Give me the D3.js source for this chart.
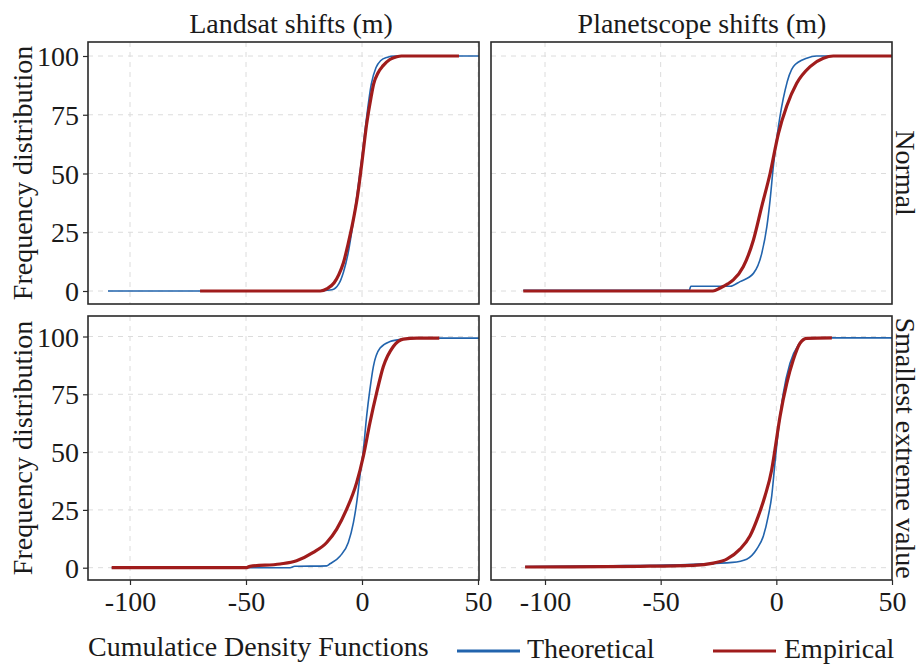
<!DOCTYPE html>
<html>
<head>
<meta charset="utf-8">
<script src="https://cdn.jsdelivr.net/npm/d3@7"></script>
<style>
  html, body { margin: 0; padding: 0; background: #fff; }
  svg { display: block; }
  text { font-family: "Liberation Serif", "Times New Roman", serif; fill: #1a1a1a; }
</style>
</head>
<body>
<svg id="chart" width="921" height="667"></svg>
<script>
// Facet labels, ticks and legend
const columnLabels = ["Landsat shifts (m)", "Planetscope shifts (m)"];
const rowLabels = ["Normal", "Smallest extreme value"];
const seriesNames = ["Theoretical", "Empirical"];
const xTicks = [-100, -50, 0, 50];
const yTicks = [0, 25, 50, 75, 100];
const xAxisTitle = "Cumulatice Density Functions";
const yAxisTitle = "Frequency distribution";

// Cumulative curves, [shift (m), cumulative %]
const landsatNormalTheoretical = [[-109.5,0],[-20,0],[-13,0.5],[-10,3],[-8,8],[-6,16],[-4,28],[-2,42],[0,57],[2,74],[4,88],[6,95],[8,98],[11,99.5],[14,100],[52,100]];
const landsatNormalEmpirical = [[-69.8,0],[-18,0],[-15,1],[-12,3.5],[-10,7],[-8,12],[-6,20],[-4,29],[-2,40],[0,55],[2,71],[4,83],[5,88],[7,93],[9,95.8],[12,98.5],[15,99.7],[17,100],[41.8,100]];
const planetNormalTheoretical = [[-109.4,0.3],[-37.6,0.3],[-37,2],[-20,2],[-15.7,4],[-9.9,7.5],[-6.3,16],[-4.1,27.4],[-2.7,38.7],[-1.3,53],[0.9,70],[3.8,85.5],[7.4,95.5],[13.1,99],[17.4,100],[51,100]];
const planetNormalEmpirical = [[-109.4,0],[-27.4,0],[-24.3,1.3],[-21,3],[-18.6,4.7],[-14.3,10.3],[-9.9,21.7],[-6.3,36],[-2.7,50],[0.9,67],[4.5,78.7],[8.8,88.4],[14.6,95.5],[20.3,99],[24.6,100],[51,100]];
const landsatExtremeTheoretical = [[-107.9,0],[-31,0],[-29,0.6],[-15.2,0.8],[-13.8,1.7],[-9.5,5],[-5.9,10.9],[-3.7,19.5],[-2.3,28],[-0.9,39.6],[0.6,51],[2,65.5],[3.4,77],[4.9,87],[7.8,95],[12.1,97.8],[17.8,98.9],[23,99.3],[51,99.3]];
const landsatExtremeEmpirical = [[-107.9,0],[-50,0],[-48.3,0.6],[-35.3,1.6],[-28.2,3],[-21,6.6],[-15.2,10.9],[-10.9,16.7],[-6.6,25.3],[-2.3,36.8],[0.6,48.3],[3.4,62.6],[6.3,75.6],[9.2,87],[13.5,95.7],[17.8,98.9],[23.6,99.3],[33.3,99.3]];
const planetExtremeTheoretical = [[-108.6,0.5],[-72,0.8],[-36,1.5],[-19,2.3],[-12.8,3.7],[-8.5,8],[-5.6,13.7],[-3.5,22.3],[-2,31],[-0.6,45.3],[0.9,59.7],[3,75.4],[5.9,88.4],[9.5,96.3],[13.1,99.2],[20,99.4],[51,99.4]];
const planetExtremeEmpirical = [[-108.6,0.3],[-58.9,0.6],[-35.9,1],[-27.2,2],[-21.4,3.7],[-15.7,8],[-11.4,13.7],[-7.8,22.3],[-4.9,31],[-2,42.4],[-0.6,51],[1.6,65.4],[4.5,79.7],[7.3,89.8],[10.2,97],[13.1,99.2],[24,99.4]];

const panelData = [
  [[landsatNormalTheoretical, landsatNormalEmpirical], [planetNormalTheoretical, planetNormalEmpirical]],
  [[landsatExtremeTheoretical, landsatExtremeEmpirical], [planetExtremeTheoretical, planetExtremeEmpirical]]
];

const colors = ["#2264ad", "#a01c1c"];
const widths = [1.6, 3.2];

// Panel geometry
const cols = [
  { left: 88, right: 479, scale: d3.scaleLinear().domain([-100, 50]).range([130, 478]), labelX: 291 },
  { left: 491, right: 892, scale: d3.scaleLinear().domain([-100, 50]).range([545, 892]), labelX: 702 }
];
const rows = [
  { top: 42, bottom: 304, scale: d3.scaleLinear().domain([0, 100]).range([291, 56]) },
  { top: 316, bottom: 580, scale: d3.scaleLinear().domain([0, 100]).range([567.7, 336.5]) }
];

const plainNumber = d => String(d);

const svg = d3.select("#chart");
const defs = svg.append("defs");

rows.forEach((row, ri) => {
  cols.forEach((col, ci) => {
    const id = `clip-${ri}-${ci}`;
    defs.append("clipPath").attr("id", id)
      .append("rect")
      .attr("x", col.left).attr("y", row.top)
      .attr("width", col.right - col.left).attr("height", row.bottom - row.top);

    const g = svg.append("g");
    const x = col.scale, y = row.scale;

    // dashed grid
    const grid = g.append("g").attr("clip-path", `url(#${id})`);
    grid.selectAll("line.gx").data(xTicks).join("line")
      .attr("x1", d => x(d)).attr("x2", d => x(d))
      .attr("y1", row.top).attr("y2", row.bottom)
      .attr("stroke", "#dcdcdc").attr("stroke-width", 1).attr("stroke-dasharray", "5,5");
    grid.selectAll("line.gy").data(yTicks).join("line")
      .attr("y1", d => y(d)).attr("y2", d => y(d))
      .attr("x1", col.left).attr("x2", col.right)
      .attr("stroke", "#dcdcdc").attr("stroke-width", 1).attr("stroke-dasharray", "5,5");

    // curves
    const line = d3.line().x(d => x(d[0])).y(d => y(d[1])).curve(d3.curveMonotoneX);
    const curves = g.append("g").attr("clip-path", `url(#${id})`);
    panelData[ri][ci].forEach((series, si) => {
      curves.append("path")
        .attr("d", line(series))
        .attr("fill", "none")
        .attr("stroke", colors[si])
        .attr("stroke-width", widths[si])
        .attr("stroke-linejoin", "round");
    });

    // panel border
    g.append("rect")
      .attr("x", col.left).attr("y", row.top)
      .attr("width", col.right - col.left).attr("height", row.bottom - row.top)
      .attr("fill", "none").attr("stroke", "#2a2a2a").attr("stroke-width", 1.6);

    // y axis on left column
    if (ci === 0) {
      const ya = d3.axisLeft(y).tickValues(yTicks).tickFormat(plainNumber).tickSize(5).tickPadding(4);
      const ag = g.append("g").attr("transform", `translate(${col.left},0)`).call(ya);
      ag.select(".domain").remove();
      ag.selectAll(".tick line").attr("stroke", "#2a2a2a").attr("stroke-width", 1.2);
      ag.selectAll(".tick text").attr("font-size", 28).attr("font-family", "Liberation Serif").attr("fill", "#1a1a1a").attr("dy", "0.34em");
      g.append("text")
        .attr("transform", `translate(32,${(row.top + row.bottom) / 2}) rotate(-90)`)
        .attr("text-anchor", "middle").attr("font-size", 28)
        .text(yAxisTitle);
    }
    // x axis on bottom row
    if (ri === rows.length - 1) {
      const xa = d3.axisBottom(x).tickValues(xTicks).tickFormat(plainNumber).tickSize(5).tickPadding(6);
      const ag = g.append("g").attr("transform", `translate(0,${row.bottom})`).call(xa);
      ag.select(".domain").remove();
      ag.selectAll(".tick line").attr("stroke", "#2a2a2a").attr("stroke-width", 1.2);
      ag.selectAll(".tick text").attr("font-size", 28).attr("font-family", "Liberation Serif").attr("fill", "#1a1a1a").attr("dy", "0.71em");
    }
    // column strip
    if (ri === 0) {
      g.append("text").attr("x", col.labelX).attr("y", 33)
        .attr("text-anchor", "middle").attr("font-size", 28).text(columnLabels[ci]);
    }
    // row strip
    if (ci === cols.length - 1) {
      g.append("text")
        .attr("transform", `translate(896,${(row.top + row.bottom) / 2}) rotate(90)`)
        .attr("text-anchor", "middle").attr("font-size", 28).text(rowLabels[ri]);
    }
  });
});

// bottom title and legend
svg.append("text").attr("x", 88).attr("y", 656).attr("font-size", 28).text(xAxisTitle);
const legendItems = [{ x1: 457, x2: 520, tx: 527 }, { x1: 713, x2: 776, tx: 784 }];
legendItems.forEach((it, i) => {
  svg.append("line").attr("x1", it.x1).attr("x2", it.x2).attr("y1", 651).attr("y2", 651)
    .attr("stroke", colors[i]).attr("stroke-width", 3);
  svg.append("text").attr("x", it.tx).attr("y", 658).attr("font-size", 28).text(seriesNames[i]);
});
</script>
</body>
</html>
